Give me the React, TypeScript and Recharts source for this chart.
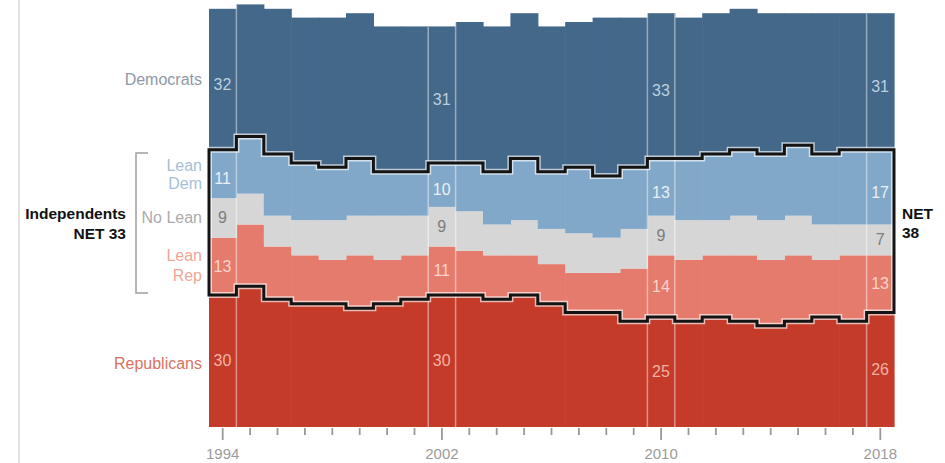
import React from 'react';
import { BarChart, Bar, XAxis, YAxis, LabelList } from 'recharts';

// Party identification, % of public (Pew), 1994-2018
const years = [
  1994, 1995, 1996, 1997, 1998, 1999, 2000, 2001, 2002, 2003, 2004, 2005, 2006,
  2007, 2008, 2009, 2010, 2011, 2012, 2013, 2014, 2015, 2016, 2017, 2018,
];
const republicans = [30, 32, 29, 28, 28, 27, 28, 29, 30, 30, 29, 30, 28, 26, 26, 24, 25, 24, 25, 24, 23, 24, 25, 24, 26];
const leanRep = [13, 14, 12, 11, 10, 12, 10, 10, 11, 10, 10, 9, 9, 9, 9, 12, 14, 14, 14, 15, 15, 15, 13, 15, 13];
const noLean = [9, 7, 7, 8, 9, 9, 10, 9, 9, 9, 7, 8, 8, 9, 8, 9, 9, 9, 8, 9, 9, 9, 8, 7, 7];
const leanDem = [11, 13, 14, 13, 12, 13, 10, 10, 10, 11, 12, 14, 13, 15, 14, 14, 13, 14, 15, 15, 15, 16, 16, 17, 17];
const democrats = [32, 30, 33, 33, 34, 33, 33, 33, 31, 32, 33, 33, 33, 33, 36, 34, 33, 32, 32, 32, 32, 30, 32, 31, 31];

// years that get value labels and axis labels
const labeledYears = [1994, 2002, 2010, 2018];

const FONT = "'Liberation Sans', Arial, sans-serif";

const COLORS = {
  rep: '#c43b29',
  leanRep: '#e57b6d',
  noLean: '#d6d6d6',
  leanDem: '#81a8c8',
  dem: '#44688a',
};

const rows = years.map((year, i) => {
  const show = labeledYears.includes(year);
  return {
    year,
    rep: republicans[i],
    leanRep: leanRep[i],
    noLean: noLean[i],
    leanDem: leanDem[i],
    dem: democrats[i],
    repLabel: show ? republicans[i] : null,
    leanRepLabel: show ? leanRep[i] : null,
    noLeanLabel: show ? noLean[i] : null,
    leanDemLabel: show ? leanDem[i] : null,
    demLabel: show ? democrats[i] : null,
  };
});

const last = years.length - 1;

// pixel positions collected from the bars recharts lays out
const geo = {
  x: [] as number[],
  top: [] as number[],
  ldTop: [] as number[],
  repTop: [] as number[],
  base: 0,
};

// bars get truncated to whole pixels, so each one is drawn 1px wider to close the gaps
const plainShape = (fill: string, isRep?: boolean) => (props: any) => {
  const { x, y, width, height, index } = props;
  if (isRep) {
    geo.repTop[index] = y;
    geo.base = y + height;
  }
  return <rect x={x} y={y} width={width + 1} height={height} fill={fill} />;
};

const Overlay = () => {
  const xs = geo.x;
  const p = (xs[last] - xs[0]) / last;
  const seps: any[] = [];
  labeledYears.forEach((yr) => {
    const h = years.indexOf(yr);
    if (h > 0) {
      seps.push({ x: xs[h], y: Math.min(geo.top[h], geo.top[h - 1]) });
    }
    if (h < last) {
      seps.push({ x: xs[h] + p, y: Math.min(geo.top[h], geo.top[h + 1]) });
    }
  });

  // outline round the independents block
  let d = `M${xs[0]},${geo.repTop[0]} L${xs[0]},${geo.ldTop[0]}`;
  for (let j = 0; j <= last; j++) {
    d += ` L${xs[j] + p},${geo.ldTop[j]}`;
    if (j < last) d += ` L${xs[j] + p},${geo.ldTop[j + 1]}`;
  }
  d += ` L${xs[last] + p},${geo.repTop[last]}`;
  for (let j = last; j >= 0; j--) {
    d += ` L${xs[j]},${geo.repTop[j]}`;
    if (j > 0) d += ` L${xs[j]},${geo.repTop[j - 1]}`;
  }
  d += ' Z';

  return (
    <g>
      {seps.map((s, i) => (
        <line key={i} x1={s.x} x2={s.x} y1={s.y} y2={geo.base} stroke="rgba(255,255,255,0.45)" strokeWidth={1.5} />
      ))}
      <path d={d} fill="none" stroke="rgba(255,255,255,0.65)" strokeWidth={6} strokeLinejoin="miter" />
      <path d={d} fill="none" stroke="#141414" strokeWidth={3} strokeLinejoin="miter" />
    </g>
  );
};

const demShape = (props: any) => {
  const { x, y, width, height, index } = props;
  geo.x[index] = x;
  geo.top[index] = y;
  geo.ldTop[index] = y + height;
  const rect = <rect x={x} y={y} width={width + 1} height={height} fill={COLORS.dem} />;
  if (index !== last) return rect;
  return (
    <g>
      {rect}
      <Overlay />
    </g>
  );
};

const valueLabel = (color: string, dy: number) => (props: any) => {
  const { value } = props;
  if (value === null || value === undefined || value === '') return null;
  const vb = props.viewBox ?? props;
  const cx = vb.x + vb.width / 2;
  const cy = vb.y + vb.height / 2 + dy;
  return (
    <text x={cx} y={cy} textAnchor="middle" dominantBaseline="central" fontSize={16} fontFamily={FONT} fill={color}>
      {value}
    </text>
  );
};

const YearTick = (props: any) => {
  const { x, y, payload } = props;
  const major = labeledYears.includes(Number(payload.value));
  return (
    <g>
      <line x1={x} x2={x} y1={y + 1} y2={y + (major ? 13 : 8)} stroke="#999" strokeWidth={1.8} />
      {major && (
        <text x={x} y={y + 26} textAnchor="middle" dominantBaseline="central" fontSize={15} fontFamily={FONT} fill="#9b9b9b">
          {payload.value}
        </text>
      )}
    </g>
  );
};

const sideText = { fontFamily: FONT, fontSize: 16 };

export default function App() {
  return (
    <div style={{ position: 'absolute', left: 0, top: 0, width: 945, height: 463, background: '#fff', fontFamily: FONT }}>
      <BarChart
        width={945}
        height={463}
        data={rows}
        margin={{ top: 0, right: 51, bottom: 0, left: 209 }}
        barCategoryGap={0}
        barGap={0}
      >
        <XAxis
          dataKey="year"
          height={36}
          interval={0}
          minTickGap={0}
          tickLine={false}
          axisLine={false}
          tickSize={0}
          tickMargin={0}
          tick={(p: any) => <YearTick {...p} />}
        />
        <YAxis hide domain={[0, 97]} />
        <Bar dataKey="rep" stackId="a" fill={COLORS.rep} shape={plainShape(COLORS.rep, true)} isAnimationActive={false}>
          <LabelList dataKey="repLabel" content={valueLabel('#f2b2a2', 0)} />
        </Bar>
        <Bar dataKey="leanRep" stackId="a" fill={COLORS.leanRep} shape={plainShape(COLORS.leanRep)} isAnimationActive={false}>
          <LabelList dataKey="leanRepLabel" content={valueLabel('#fbd3ca', 0)} />
        </Bar>
        <Bar dataKey="noLean" stackId="a" fill={COLORS.noLean} shape={plainShape(COLORS.noLean)} isAnimationActive={false}>
          <LabelList dataKey="noLeanLabel" content={valueLabel('#7d7d7d', 0)} />
        </Bar>
        <Bar dataKey="leanDem" stackId="a" fill={COLORS.leanDem} shape={plainShape(COLORS.leanDem)} isAnimationActive={false}>
          <LabelList dataKey="leanDemLabel" content={valueLabel('#e9f0f6', 5)} />
        </Bar>
        <Bar dataKey="dem" stackId="a" fill={COLORS.dem} shape={demShape} isAnimationActive={false}>
          <LabelList dataKey="demLabel" content={valueLabel('#bccfdf', 5)} />
        </Bar>
      </BarChart>

      <svg width={945} height={463} style={{ position: 'absolute', left: 0, top: 0, pointerEvents: 'none' }}>
        <line x1={19} x2={19} y1={0} y2={463} stroke="#dfe3e6" strokeWidth={2} />
        <g {...sideText} textAnchor="end" dominantBaseline="central">
          <text x={202} y={79} fill="#8d99a6">Democrats</text>
          <text x={202} y={363} fill="#d9725f">Republicans</text>
          <text x={202} y={165} fill="#a6bfd4">Lean</text>
          <text x={202} y={183} fill="#a6bfd4">Dem</text>
          <text x={202} y={217} fill="#ababab">No Lean</text>
          <text x={202} y={255} fill="#f0a697">Lean</text>
          <text x={202} y={275} fill="#f0a697">Rep</text>
        </g>
        <g fontFamily={FONT} fontSize={15.5} fontWeight="bold" fill="#111" dominantBaseline="central">
          <text x={126} y={213} textAnchor="end">Independents</text>
          <text x={126} y={233} textAnchor="end">NET 33</text>
          <text x={902} y={213}>NET</text>
          <text x={902} y={232}>38</text>
        </g>
        <path d="M148,153 H136 V293 H148" fill="none" stroke="#9f9f9f" strokeWidth={1.5} />
      </svg>
    </div>
  );
}
